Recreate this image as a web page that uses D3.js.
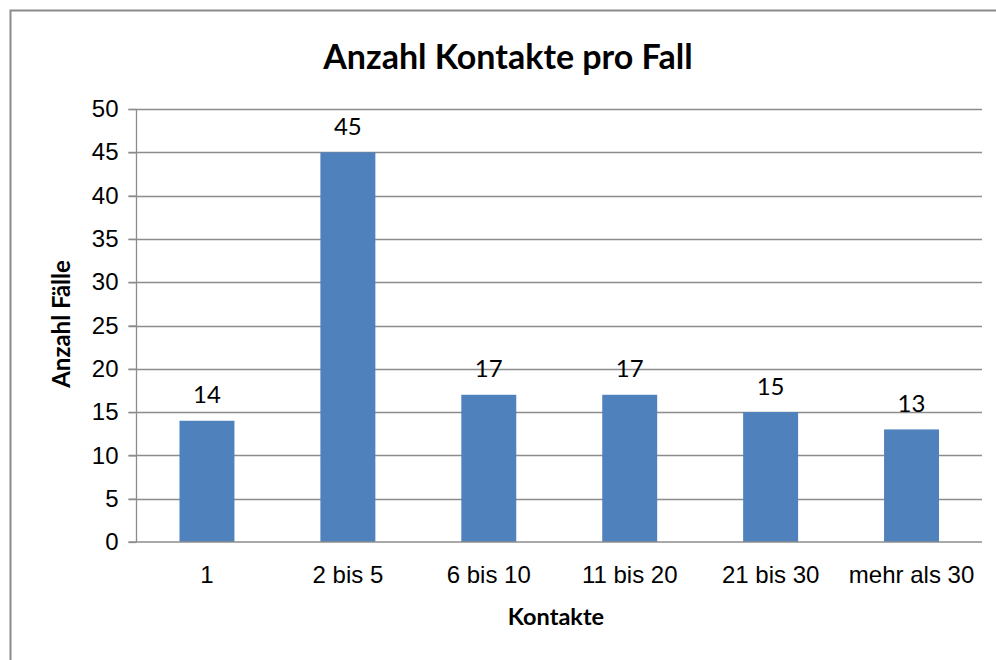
<!DOCTYPE html>
<html>
<head>
<meta charset="utf-8">
<script src="https://cdn.jsdelivr.net/npm/d3@7"></script>
<style>
  body { margin: 0; background: #fff; }
  svg { display: block; font-family: Lato, "Open Sans", sans-serif; }
</style>
</head>
<body>
<div id="chart"></div>
<script>
  // data
  var categories = ['1', '2 bis 5', '6 bis 10', '11 bis 20', '21 bis 30', 'mehr als 30'];
  var values = [14, 45, 17, 17, 15, 13];
  var yTicks = [0, 5, 10, 15, 20, 25, 30, 35, 40, 45, 50];

  var W = 996, H = 660;
  var margin = { top: 109, right: 14, bottom: 118, left: 136.5 };
  var w = W - margin.left - margin.right;
  var h = H - margin.top - margin.bottom;

  var svg = d3.select('#chart').append('svg').attr('width', W).attr('height', H);

  // outer chart frame (runs off the right/bottom edge)
  svg.append('rect')
    .attr('x', 10.5).attr('y', 10.5)
    .attr('width', W + 20).attr('height', H + 20)
    .attr('fill', 'none').attr('stroke', '#8a8a8a').attr('stroke-width', 2);

  var g = svg.append('g').attr('transform', 'translate(' + margin.left + ',' + margin.top + ')');

  var x = d3.scaleBand().domain(categories).range([0, w]).padding(0);
  var y = d3.scaleLinear().domain([0, 50]).range([h, 0]);
  var barW = x.bandwidth() * 0.39;

  // gridlines
  g.append('g').selectAll('line').data(yTicks.filter(function (t) { return t > 0; }))
    .enter().append('line')
    .attr('x1', -8).attr('x2', w)
    .attr('y1', function (d) { return Math.round(y(d)) + 0.5; })
    .attr('y2', function (d) { return Math.round(y(d)) + 0.5; })
    .attr('stroke', '#8c8c8c').attr('stroke-width', 1.3);

  // y axis
  var yAxis = g.append('g')
    .call(d3.axisLeft(y).tickValues(yTicks).tickSize(8).tickPadding(10));
  yAxis.select('.domain').attr('stroke', '#8c8c8c').attr('stroke-width', 1.3).attr('d', 'M0,' + h + 'V0');
  yAxis.selectAll('.tick line').attr('stroke', '#8c8c8c').attr('stroke-width', 1.3);
  yAxis.selectAll('text').style('font-size', '24px').attr('fill', '#000');

  // bars
  g.selectAll('.bar').data(values).enter().append('rect')
    .attr('class', 'bar')
    .attr('x', function (d, i) { return x(categories[i]) + (x.bandwidth() - barW) / 2; })
    .attr('y', function (d) { return y(d); })
    .attr('width', barW)
    .attr('height', function (d) { return h - y(d); })
    .attr('fill', '#4f81bd');

  // value labels
  g.selectAll('.val').data(values).enter().append('text')
    .attr('x', function (d, i) { return x(categories[i]) + x.bandwidth() / 2; })
    .attr('y', function (d) { return y(d) - 26; })
    .attr('dy', '0.35em')
    .attr('text-anchor', 'middle')
    .style('font-size', '24px')
    .text(function (d) { return d; });

  // x axis
  var xAxis = g.append('g').attr('transform', 'translate(0,' + h + ')')
    .call(d3.axisBottom(x).tickSize(0).tickPadding(24));
  xAxis.select('.domain').attr('stroke', '#8c8c8c').attr('stroke-width', 1.3).attr('d', 'M-8,0H' + w);
  xAxis.selectAll('text').style('font-size', '24px').attr('fill', '#000');

  // titles
  svg.append('text')
    .attr('x', 508).attr('y', 57).attr('dy', '0.35em')
    .attr('text-anchor', 'middle')
    .style('font-size', '34px').style('font-weight', 'bold')
    .text('Anzahl Kontakte pro Fall');

  svg.append('text')
    .attr('x', 556).attr('y', 617).attr('dy', '0.35em')
    .attr('text-anchor', 'middle')
    .style('font-size', '23.5px').style('font-weight', 'bold')
    .text('Kontakte');

  svg.append('text')
    .attr('transform', 'translate(62,324) rotate(-90)')
    .attr('dy', '0.35em')
    .attr('text-anchor', 'middle')
    .style('font-size', '24px').style('font-weight', 'bold')
    .text('Anzahl Fälle');
</script>
</body>
</html>
